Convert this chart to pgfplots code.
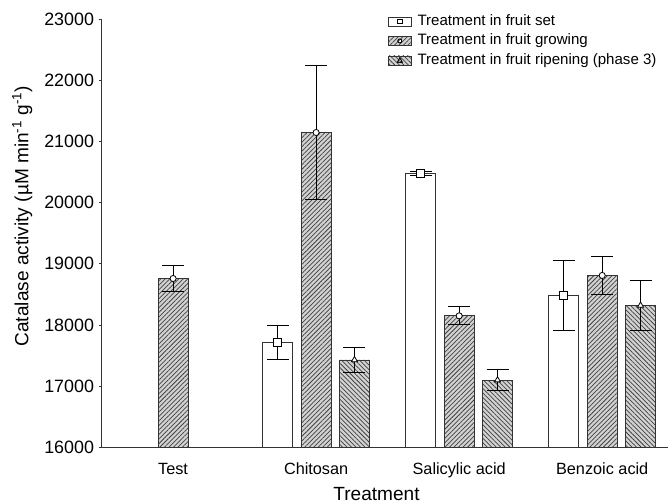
\documentclass[border=0pt]{standalone}
\usepackage{fontspec}
\setmainfont{Liberation Sans}
\usepackage{pgfplots}
\usepackage{pgfplotstable}
\pgfplotsset{compat=1.18}
\usetikzlibrary{patterns.meta}

% x = group index (0 Test, 1 Chitosan, 2 Salicylic, 3 Benzoic) +- bar offset
\pgfplotstableread{
x      y      e
0.732  17710  275
1.732  20480  35
2.732  18480  575
}\setdata
\pgfplotstableread{
x      y      e
0      18760  220
1      21145  1090
2      18150  145
3      18810  310
}\growdata
\pgfplotstableread{
x      y      e
1.268  17430  205
2.268  17100  170
3.268  18320  405
}\ripedata

\pgfplotsset{
  barbase/.style={ybar, bar width=22.5pt, bar shift=0pt, draw=black!80, line width=0.6pt},
  setbar/.style={barbase, fill=white},
  growbar/.style={barbase, fill=gray!35,
    postaction={pattern={Lines[angle=45,distance=2.4pt,line width=0.55pt]},pattern color=black!75}},
  ripebar/.style={barbase, fill=gray!35,
    postaction={pattern={Lines[angle=-45,distance=2.4pt,line width=0.55pt]},pattern color=black!75}},
  legbox/.style={legend image code/.code={
    \draw[##1] (0pt,-3.4pt) rectangle (17pt,3.4pt);
    \draw[black, fill=white, line width=0.5pt] (8.5pt,0pt) #1;}},
  errmarks/.style={only marks, forget plot, mark size=#1,
    mark options={fill=white, draw=black, line width=0.6pt, solid},
    error bars/.cd, y dir=both, y explicit,
    error bar style={black, line width=0.75pt},
    error mark options={rotate=90, black, line width=0.75pt, mark size=8.25pt}},
}

\begin{document}
\begin{tikzpicture}
\path[use as bounding box] (-76.5pt,-41.6pt) rectangle (424.5pt,335.6pt);
\begin{axis}[
    scale only axis,
    width=424.5pt, height=321.4pt,
    xmin=-0.497, xmax=3.46,
    ymin=16000, ymax=23000,
    axis lines=left,
    axis line style={-, line width=0.75pt, black!80},
    ytick={16000,17000,...,23000},
    tick align=outside,
    major tick length=2.5pt,
    y tick style={black!80, line width=0.6pt},
    xtick={0,1,2,3},
    xticklabels={Test,Chitosan,Salicylic acid,Benzoic acid},
    x tick style={draw=none},
    scaled y ticks=false,
    /pgf/number format/1000 sep={},
    /pgf/number format/assume math mode=true,
    y tick label style={font=\fontsize{13.4}{15}\selectfont},
    x tick label style={font=\fontsize{12.2}{14}\selectfont, anchor=base, yshift=-17.5pt},
    xlabel={Treatment},
    ylabel={Catalase activity (µM min\textsuperscript{-1} g\textsuperscript{-1})},
    label style={font=\fontsize{14.3}{17}\selectfont},
    xlabel style={at={(axis description cs:0.485,0)}, anchor=center, yshift=-34.6pt},
    ylabel style={at={(axis description cs:-0.141,0.540)}, anchor=center},
    legend style={draw=none, fill=none, at={(axis description cs:0.505,1.0148)},
      anchor=north west, inner sep=0pt, row sep=1.6pt,
      font=\fontsize{11.3}{13}\selectfont,
      nodes={inner sep=1pt, text height=8.5pt, text depth=2.5pt},
      /tikz/every odd column/.style={column sep=3.5pt}},
    legend cell align=left,
]
\addplot[setbar, legbox={+(-1.8pt,-1.5pt) rectangle +(1.8pt,1.5pt)}] table[x=x, y=y] \setdata;
\addplot[growbar, legbox={circle[radius=1.5pt]}] table[x=x, y=y] \growdata;
\addplot[ripebar, legbox={+(0pt,2pt) -- +(-1.8pt,-1.3pt) -- +(1.8pt,-1.3pt) -- cycle}] table[x=x, y=y] \ripedata;

\addplot[mark=square*, errmarks=3pt] table[x=x, y=y, y error=e] \setdata;
\addplot[mark=*, errmarks=2.3pt] table[x=x, y=y, y error=e] \growdata;
\addplot[mark=triangle*, errmarks=2.6pt] table[x=x, y=y, y error=e] \ripedata;

\legend{Treatment in fruit set, Treatment in fruit growing, Treatment in fruit ripening (phase 3)}
\end{axis}
\end{tikzpicture}
\end{document}
